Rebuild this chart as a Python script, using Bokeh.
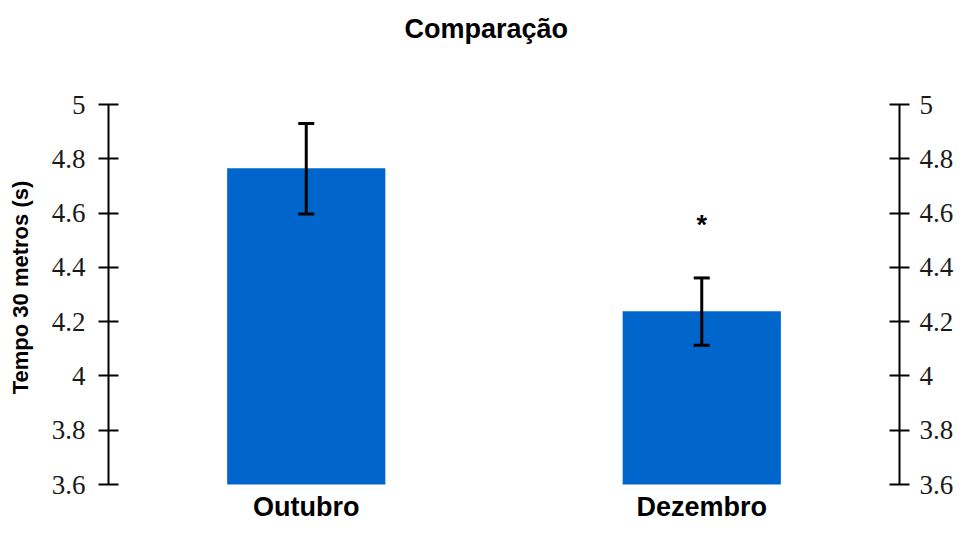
from bokeh.plotting import figure
from bokeh.models import (ColumnDataSource, FactorRange, Range1d, LinearAxis,
                          FixedTicker, Whisker, TeeHead)
from bokeh.core.properties import value
from bokeh.embed import file_html
from bokeh.resources import INLINE

# ---- data ----
categories = ["Outubro", "Dezembro"]
means = [4.765, 4.238]
err_low = [4.597, 4.113]
err_high = [4.930, 4.361]
star_cats = ["Dezembro"]
star_text = ["*"]
star_y = [4.555]
y_ticks = [3.6, 3.8, 4.0, 4.2, 4.4, 4.6, 4.8, 5.0]
y_tick_labels = ["3.6", "3.8", "4", "4.2", "4.4", "4.6", "4.8", "5"]
y_min, y_max = 3.6, 5.0

SANS = "Liberation Sans"
SERIF = "Liberation Serif"
BAR = "#0066CC"

# ---- layout (pixels) ----
W, H = 956, 523
FRAME_L, FRAME_R = 108, 902
FRAME_T, FRAME_B = 51, H          # plotting frame
AX_T, AX_B = 104, 484             # where y_max / y_min sit
px_per_unit = (AX_B - AX_T) / (y_max - y_min)
y_end = y_max + (AX_T - FRAME_T) / px_per_unit
y_start = y_min - (FRAME_B - AX_B) / px_per_unit

src = ColumnDataSource(dict(cats=categories, mean=means, lo=err_low, hi=err_high,
                            base=[y_min] * len(categories)))
star_src = ColumnDataSource(dict(cats=star_cats, text=star_text, y=star_y))

p = figure(x_range=FactorRange(*categories, range_padding=0),
           y_range=Range1d(y_start, y_end),
           width=W, height=H, output_backend="svg", toolbar_location=None,
           x_axis_location=None,
           min_border_left=FRAME_L, min_border_right=W - FRAME_R,
           min_border_top=FRAME_T, min_border_bottom=H - FRAME_B,
           title="Comparação")

p.vbar(x="cats", top="mean", bottom="base", width=0.4, source=src,
       fill_color=BAR, line_color=None)

w = Whisker(source=src, base="cats", lower="lo", upper="hi", dimension="height",
            line_width=3, line_color="black", level="overlay",
            upper_head=TeeHead(size=16, line_width=3, line_color="black"),
            lower_head=TeeHead(size=16, line_width=3, line_color="black"))
p.add_layout(w)

# significance marker
p.text(x="cats", y="y", text="text", source=star_src, text_align="center",
       text_baseline="alphabetic", text_font=value(SANS), text_font_style="bold",
       text_font_size="27px", text_color="black")

# category labels (below the bars)
p.text(x="cats", y="base", text="cats", source=src, text_align="center",
       text_baseline="middle", y_offset=22, text_font=value(SANS),
       text_font_style="bold", text_font_size="27px", text_color="black")

# title
p.title.align = "left"
p.title.offset = 296
p.title.vertical_align = "bottom"
p.title.standoff = 15
p.title.text_font = SANS
p.title.text_font_style = "bold"
p.title.text_font_size = "27px"
p.title.text_color = "black"

# grids / outline
p.xgrid.visible = False
p.ygrid.visible = False
p.outline_line_color = None

overrides = {t: l for t, l in zip(y_ticks, y_tick_labels)}

def style_y(ax, standoff):
    ax.ticker = FixedTicker(ticks=y_ticks)
    ax.bounds = (y_min, y_max)
    ax.major_label_overrides = overrides
    ax.minor_tick_line_color = None
    ax.major_tick_in = 10
    ax.major_tick_out = 10
    ax.major_tick_line_width = 2
    ax.major_tick_line_color = "black"
    ax.axis_line_width = 2
    ax.axis_line_color = "black"
    ax.major_label_text_font = SERIF
    ax.major_label_text_font_size = "27px"
    ax.major_label_text_color = "#1a1a1a"
    ax.major_label_standoff = standoff

yl = p.yaxis[0]
style_y(yl, 13)
yl.axis_label = "Tempo 30 metros (s)"
yl.axis_label_text_font = SANS
yl.axis_label_text_font_style = "bold"
yl.axis_label_text_font_size = "22px"
yl.axis_label_text_color = "black"
yl.axis_label_standoff = 16

yr = LinearAxis()
style_y(yr, 10)
p.add_layout(yr, "right")

open("out.html", "w").write(file_html(p, INLINE))
